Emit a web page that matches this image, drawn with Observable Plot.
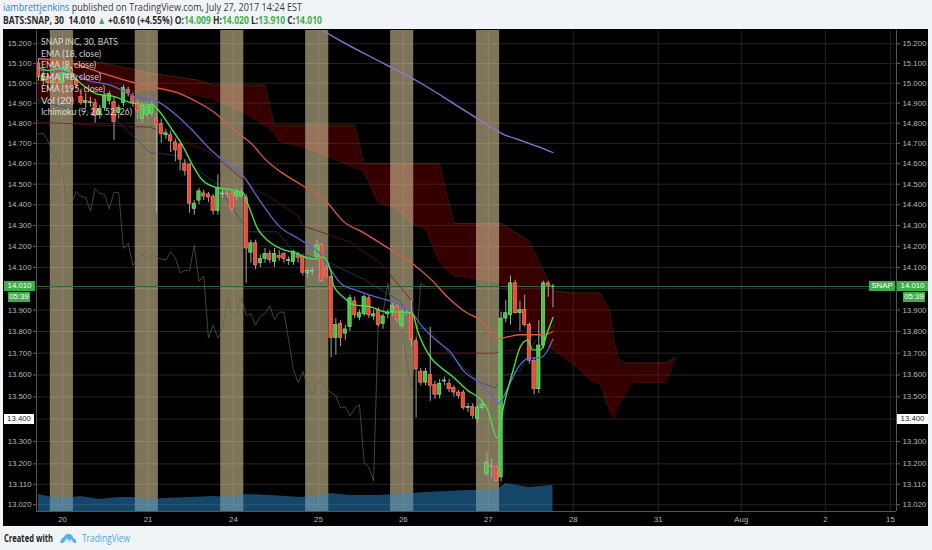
<!DOCTYPE html>
<html><head><meta charset="utf-8">
<script src="https://cdn.jsdelivr.net/npm/d3@7"></script>
<script src="https://cdn.jsdelivr.net/npm/@observablehq/plot@0.6"></script>
<style>
html,body{margin:0;padding:0;background:#f1f4f7;width:932px;height:550px;overflow:hidden;}
#page{position:relative;width:932px;height:550px;font-family:"Open Sans",Lato,sans-serif;}
.fit{position:absolute;white-space:pre;transform-origin:0 50%;line-height:12px;}
#panel{position:absolute;left:3px;top:29px;width:925px;height:497px;background:#000;}
#main,#vol{position:absolute;left:0;top:30px;}
#vol{pointer-events:none;}
.box{position:absolute;font:7.8px "Liberation Sans",Arial,sans-serif;line-height:10px;height:10px;text-align:center;}
.leg{position:absolute;white-space:nowrap;transform-origin:0 50%;font:9.5px Lato,sans-serif;line-height:10px;color:rgba(235,235,235,0.88);}
</style></head>
<body><div id="page">
<div id="h1" class="fit" style="left:3px;top:1px;font-size:10.5px;color:#3a3a3a;"><span style="color:#2f86c8">iambrettjenkins</span> published on TradingView.com, July 27, 2017 14:24 EST</div>
<div id="h2" class="fit" style="left:3px;top:13.5px;font-size:10.5px;font-weight:bold;color:#2a2a2a;"></div>
<div id="panel"></div>
<div id="chart"></div>
<div id="legend"></div>
<div id="boxes"></div>
<div id="f1" class="fit" style="left:4px;top:532px;font-size:10.5px;font-weight:bold;color:#222;">Created with</div>
<svg style="position:absolute;left:60px;top:533px" width="17" height="11" viewBox="0 0 17 11"><path d="M0 10 Q1 5 4 4 Q6 0 10 1 Q13 2 13 5 Q17 6 16 10 Z" fill="#5aaee6"/><path d="M3 10 L7 5 L9 8 L11 6 L14 10 Z" fill="#ffffff" opacity="0.75"/></svg>
<div id="f2" class="fit" style="left:82px;top:532px;font-size:10.5px;color:#4aa6e2;">TradingView</div>
</div>
<script>
// ---------- data ----------
const opens  = [15.10,15.01,15.03,15.00,15.02,15.00,15.04,15.07,15.02,14.93,14.90,14.90,14.90,14.84,14.875,14.91,14.905,14.85,14.90,14.965,14.93,14.90,14.82,14.84,14.845,14.82,14.795,14.74,14.74,14.705,14.695,14.60,14.595,14.38,14.42,14.455,14.45,14.44,14.37,14.45,14.455,14.45,14.44,14.44,14.435,14.17,14.215,14.12,14.14,14.165,14.125,14.155,14.165,14.13,14.125,14.16,14.15,14.075,14.08,14.15,14.205,14.095,14.055,13.77,13.835,13.79,13.82,13.94,13.865,13.88,13.955,13.87,13.90,13.835,13.88,13.89,13.915,13.825,13.89,13.89,13.755,13.615,13.565,13.60,13.555,13.51,13.57,13.56,13.54,13.52,13.52,13.45,13.455,13.40,13.45,13.155,13.19,13.185,13.14,13.86,13.875,14.025,13.885,13.90,13.83,13.665,13.535,13.735,14.025,14.009];
const highs  = [15.12,15.06,15.05,15.03,15.04,15.07,15.09,15.08,15.04,14.97,14.95,14.93,14.92,14.89,14.95,14.96,14.93,14.89,14.99,14.98,14.95,14.915,14.90,14.90,14.91,14.85,14.82,14.77,14.76,14.72,14.70,14.62,14.60,14.42,14.48,14.47,14.46,14.45,14.545,14.48,14.47,14.47,14.48,14.48,14.45,14.23,14.23,14.16,14.19,14.18,14.19,14.18,14.17,14.15,14.18,14.17,14.16,14.10,14.10,14.23,14.215,14.11,14.06,13.86,13.85,13.83,13.97,13.96,13.90,13.97,13.97,13.90,13.91,13.88,13.90,13.93,13.93,13.90,13.91,13.945,13.77,13.63,13.63,13.82,13.57,13.58,13.59,13.58,13.55,13.53,13.53,13.47,13.47,13.46,13.48,13.25,13.22,13.19,13.89,13.945,14.06,14.04,13.94,13.97,13.84,13.68,13.85,14.035,14.035,14.02];
const lows   = [15.01,14.99,14.96,14.98,14.98,14.99,15.02,15.02,14.97,14.89,14.87,14.88,14.80,14.82,14.86,14.89,14.715,14.82,14.88,14.93,14.88,14.82,14.80,14.82,14.83,14.36,14.70,14.72,14.655,14.61,14.565,14.54,14.36,14.35,14.40,14.42,14.41,14.35,14.35,14.43,14.43,14.36,14.42,14.43,14.025,14.12,14.09,14.10,14.12,14.12,14.10,14.13,14.12,14.11,14.11,14.12,14.06,14.05,14.06,14.14,14.03,14.05,13.68,13.69,13.73,13.76,13.80,13.86,13.85,13.87,13.86,13.85,13.82,13.81,13.86,13.87,13.84,13.81,13.87,13.73,13.405,13.55,13.55,13.48,13.49,13.49,13.55,13.52,13.50,13.49,13.44,13.43,13.40,13.38,13.44,13.145,13.135,13.12,13.12,13.84,13.83,13.88,13.80,13.82,13.65,13.51,13.515,13.72,13.96,13.91];
const closes = [15.03,15.04,15.00,15.01,15.00,15.05,15.07,15.04,14.99,14.90,14.91,14.905,14.835,14.87,14.935,14.945,14.805,14.875,14.975,14.95,14.90,14.86,14.885,14.88,14.89,14.79,14.745,14.75,14.71,14.665,14.62,14.565,14.405,14.405,14.465,14.44,14.435,14.37,14.48,14.455,14.45,14.38,14.46,14.46,14.19,14.215,14.11,14.14,14.165,14.135,14.165,14.145,14.14,14.135,14.175,14.145,14.075,14.085,14.085,14.205,14.035,14.06,13.77,13.83,13.77,13.81,13.955,13.875,13.885,13.96,13.875,13.88,13.83,13.87,13.885,13.92,13.855,13.89,13.89,13.76,13.625,13.565,13.615,13.55,13.51,13.56,13.575,13.535,13.52,13.505,13.45,13.455,13.415,13.45,13.465,13.205,13.185,13.125,13.86,13.885,14.025,13.885,13.90,13.83,13.665,13.535,13.735,14.025,14.01,14.01];

const ema8Idx  = [0,1.9,5.3,8.9,12.5,15.7,19.9,24.2,25.4,28.4,30.5,32.6,34.7,37.5,40.3,43.2,44.5,46.4,48.5,51.3,54.9,57,59.1,60.2,61.9,62.5,64.6,66.7,70.3,73.9,77.3,79.2,80.3,83.1,85.2,87.9,90.9,93.6,95.1,97.2,98.5,100.6,102.1,103.6,104.7,106.4,107.8,109];
const ema8Val  = [15.08,15.065,15.075,15.0,14.945,14.935,14.90,14.89,14.865,14.765,14.69,14.595,14.52,14.485,14.475,14.46,14.395,14.285,14.23,14.19,14.165,14.145,14.14,14.15,14.085,14.015,13.96,13.925,13.915,13.89,13.89,13.885,13.805,13.68,13.635,13.59,13.53,13.49,13.445,13.315,13.455,13.625,13.73,13.76,13.715,13.715,13.795,13.865];
const ema18Idx = [0.4,6.1,10.4,15.3,20.6,25.4,29.7,32.6,36,40.3,43.2,46.6,51.3,54.9,57.6,59.7,61.9,64,67.6,72.5,76.1,79.2,81.4,84.5,87.3,90,93.6,96.4,97.5,99.4,101.5,103.6,106.4,107.8,109];
const ema18Val = [15.065,15.055,15.015,14.99,14.93,14.905,14.83,14.765,14.68,14.595,14.545,14.43,14.29,14.24,14.20,14.165,14.09,14.025,13.99,13.955,13.93,13.885,13.82,13.755,13.705,13.62,13.56,13.495,13.47,13.54,13.63,13.675,13.68,13.71,13.765];
const ema48Idx = [0,6.4,13.6,20.6,25.4,29.7,33.3,37.5,41.7,45.3,48.1,51.3,55.5,61.2,64.6,68.9,73.9,79.4,83.1,86.7,90.9,93.6,97.2,99.4,102.1,107,109];
const ema48Val = [15.125,15.105,15.05,15.0,14.975,14.95,14.91,14.85,14.76,14.695,14.62,14.56,14.50,14.41,14.32,14.265,14.195,14.115,14.045,13.96,13.885,13.855,13.765,13.775,13.785,13.785,13.80];
const ema195Idx = [58,64,73.1,80.3,91.5,98.5,102.1,105.7,109];
const ema195Val = [15.30,15.215,15.10,15.01,14.845,14.745,14.715,14.685,14.655];

const cloudIdx   = [-0.4,13,24,34,37,43,48,50,51,57,64,67,69,72,76,79,82,85,86,88,98,104,109,113,117,119,121,122,123,124,126,133,135];
const cloudSpanA = [15.125,15.105,15.05,15.015,14.99,14.99,14.99,14.79,14.79,14.79,14.79,14.79,14.60,14.60,14.60,14.60,14.60,14.60,14.50,14.31,14.31,14.225,13.99,13.98,13.98,13.98,13.90,13.75,13.67,13.655,13.655,13.655,13.68];
const cloudSpanB = [14.92,14.91,14.97,14.935,14.92,14.86,14.79,14.75,14.71,14.675,14.61,14.58,14.56,14.41,14.38,14.31,14.285,14.125,14.10,14.06,14.03,13.84,13.715,13.655,13.575,13.56,13.44,13.405,13.465,13.50,13.565,13.565,13.68];
const convIdx = [-0.4,7.8,15.3,23.7,29.4,34.3,37.9,44.3,50.6,53.8,61.9,68.9,76.7,79.9,82.6,87.7,93.2,96.8,98.3,102.1,105.3,109.3];
const convVal = [14.915,14.865,14.84,14.655,14.64,14.56,14.50,14.27,14.27,14.18,14.12,14.045,13.94,13.815,13.815,13.68,13.57,13.54,13.595,13.62,13.76,13.83];
const baseIdx = [-0.4,23.7,36.4,45.9,48.6,55.1,55.9,66.1,72.5,79.2,79.9,96.8,98.9,109.3];
const baseVal = [14.805,14.78,14.655,14.475,14.445,14.345,14.30,14.22,14.12,13.94,13.70,13.70,13.71,13.735];
const laggingShift = 26;

const volIdx = [0,3,7,9,13,17,20,23,27,32,37,41,44,49,56,62,66,72,79,82,91,94,97,99,104,106,109];
const volMA  = [1.7,1.4,1.4,1.5,1.2,1.4,1.4,1.2,1.3,1.4,1.5,1.4,1.7,1.6,1.4,1.8,1.6,1.6,1.8,1.9,2.1,2.1,2.1,2.8,2.4,2.5,2.6];

const sessionStart = [2.5,20.5,38.6,56.6,74.6,92.8];
const sessionWidth = 4.9;
const dayTicks  = [5.1,23.2,41.3,59.3,77.3,95.3,113.3,131.3,148.9,166.7,180.5];
const dayLabels = ["20","21","24","25","26","27","28","31","Aug","2","15"];
const priceTicks = [15.2,15.1,15.0,14.9,14.8,14.7,14.6,14.5,14.4,14.3,14.2,14.1,14.0,13.9,13.8,13.7,13.6,13.5,13.4,13.3,13.2,13.11,13.02];
const lastPrice = 14.01;
const markedPrice = 13.4;
const labelTicks = priceTicks.filter(t => t !== 14.0 && t !== markedPrice);
const countdown = "05:39";
const symbol = "SNAP";
const legendLabels = ["SNAP INC, 30, BATS","EMA (18, close)","EMA (8, close)","EMA (48, close)","EMA (195, close)","Vol (20)","Ichimoku (9, 26, 52, 26)"];
const quoteParts = [["BATS:SNAP, 30  14.010 ","#2a2a2a"],["\u25B2","#3fae49"],[" +0.610 (+4.55%) O:","#2a2a2a"],["14.009","#3fae49"],[" H:","#2a2a2a"],["14.020","#3fae49"],[" L:","#2a2a2a"],["13.910","#3fae49"],[" C:","#2a2a2a"],["14.010","#3fae49"]];

// ---------- build ----------
const W = 932, H = 496;
const xDomain = [-0.424, 181.78];
const yDomain = [12.9905, 15.268];
const common = {width: W, height: H, marginLeft: 36, marginRight: 36, marginTop: 0, marginBottom: 15};
const bars = opens.map((o, i) => ({i, o, h: highs[i], l: lows[i], c: closes[i]}));
const pts = (idx, val) => idx.map((x, k) => ({x, y: val[k]}));
const cloud = cloudIdx.map((x, k) => ({x, a: cloudSpanA[k], b: cloudSpanB[k]}));
const lagging = closes.map((c, i) => ({x: i - laggingShift, y: c})).filter(d => d.x >= xDomain[0]);
const dayMap = new Map(dayTicks.map((d, k) => [d, dayLabels[k]]));
const up = "#44c844", down = "#ee4a36";

const main = Plot.plot({
  ...common,
  style: {background: "transparent", color: "#b9b9b9", fontFamily: "'Liberation Sans', Arial, sans-serif", fontSize: "7.8px"},
  x: {domain: xDomain, axis: null},
  y: {type: "log", domain: yDomain, axis: null},
  marks: [
    Plot.gridY(priceTicks, {stroke: "#242424", strokeOpacity: 1}),
    Plot.gridX(dayTicks, {stroke: "#242424", strokeOpacity: 1}),
    Plot.areaY(cloud, {x: "x", y1: "a", y2: "b", fill: "#b40000", fillOpacity: 0.3, clip: true}),
    Plot.line(cloud, {x: "x", y: "a", stroke: "#459915", strokeOpacity: 0.3, strokeWidth: 0.8, clip: true}),
    Plot.line(cloud, {x: "x", y: "b", stroke: "#991515", strokeOpacity: 0.5, strokeWidth: 0.8, clip: true}),
    Plot.rect(sessionStart, {x1: d => d, x2: d => d + sessionWidth, fill: "#f2dfaa", fillOpacity: 0.52}),
    Plot.ruleY([lastPrice], {stroke: "#2f6a35", strokeWidth: 1}),
    Plot.line(lagging, {x: "x", y: "y", stroke: "#5d6b3c", strokeOpacity: 0.75, strokeWidth: 0.9}),
    Plot.line(pts(convIdx, convVal), {x: "x", y: "y", stroke: "#1d4f7a", strokeOpacity: 0.75, strokeWidth: 0.9}),
    Plot.line(pts(baseIdx, baseVal), {x: "x", y: "y", stroke: "#6a1414", strokeOpacity: 0.8, strokeWidth: 0.9}),
    Plot.ruleX(bars, {x: "i", y1: "l", y2: "h", stroke: "#a6a6a6", strokeWidth: 1}),
    Plot.rect(bars, {x1: d => d.i - 0.36, x2: d => d.i + 0.36, y1: "o", y2: "c",
      fill: d => d.c >= d.o ? up : down, stroke: d => d.c >= d.o ? "#90e290" : "#f58c7e", strokeWidth: 0.6}),
    Plot.line(pts(ema48Idx, ema48Val), {x: "x", y: "y", stroke: "#e25a3c", strokeWidth: 1.3, curve: "monotone-x"}),
    Plot.line(pts(ema18Idx, ema18Val), {x: "x", y: "y", stroke: "#5d66c9", strokeWidth: 1.3, curve: "monotone-x"}),
    Plot.line(pts(ema8Idx, ema8Val), {x: "x", y: "y", stroke: "#46e046", strokeWidth: 1.4, curve: "monotone-x"}),
    Plot.line(pts(ema195Idx, ema195Val), {x: "x", y: "y", stroke: "#9d6fdc", strokeWidth: 1.3, curve: "monotone-x", clip: true}),
    Plot.ruleX([xDomain[0], xDomain[1]], {stroke: "#555"}),
    Plot.ruleY([yDomain[0]], {stroke: "#555"}),
    Plot.axisY(labelTicks, {anchor: "left", tickSize: 3, tickPadding: 2, tickFormat: d3.format(".3f"), stroke: "#666"}),
    Plot.axisY(labelTicks, {anchor: "right", tickSize: 3, tickPadding: 3, tickFormat: d3.format(".3f"), stroke: "#666"}),
    Plot.axisX(dayTicks, {anchor: "bottom", tickSize: 0, tickPadding: 5, tickFormat: d => dayMap.get(d)})
  ]
});
main.id = "main";

const vol = Plot.plot({
  ...common,
  style: {background: "transparent"},
  x: {domain: xDomain, axis: null},
  y: {domain: [0, 48.1], axis: null},
  marks: [
    Plot.areaY(pts(volIdx, volMA), {x: "x", y: "y", fill: "#2a8ad0", fillOpacity: 0.5, curve: "linear"})
  ]
});
vol.id = "vol";
document.getElementById("chart").append(main, vol);

// ---------- overlays ----------
const ys = main.scale("y");
const yPix = v => 30 + (ys.apply ? ys.apply(v) : d3.scaleLog().domain(yDomain).range([481, 0])(v));
const boxes = document.getElementById("boxes");
function box(text, left, width, top, bg, fg) {
  const d = document.createElement("div");
  d.className = "box";
  d.textContent = text;
  Object.assign(d.style, {left: left + "px", width: width + "px", top: top + "px", background: bg, color: fg});
  boxes.append(d);
}
const yl = yPix(lastPrice) - 5;
box(symbol, 869, 26, yl, "#3fae49", "#fff");
box(lastPrice.toFixed(3), 897, 31, yl, "#3fae49", "#fff");
box(countdown, 903, 22, yl + 11, "#3fae49", "#fff");
box(lastPrice.toFixed(3), 4, 31, yl, "#3fae49", "#fff");
box(countdown, 8, 22, yl + 11, "#3fae49", "#fff");
const ym = yPix(markedPrice) - 5;
box(markedPrice.toFixed(3), 4, 30, ym, "#ffffff", "#222");
box(markedPrice.toFixed(3), 897, 31, ym, "#ffffff", "#222");

const legend = document.getElementById("legend");
const legW = [77, 60, 55, 60, 64, 33, 91];
legendLabels.forEach((t, k) => {
  const d = document.createElement("div");
  d.className = "leg";
  d.textContent = t;
  d.style.left = "41px";
  d.style.top = (37 + k * 11.7) + "px";
  legend.append(d);
  d.style.transform = `scaleX(${legW[k] / d.getBoundingClientRect().width})`;
});

const h2 = document.getElementById("h2");
quoteParts.forEach(([t, c]) => { const s = document.createElement("span"); s.textContent = t; s.style.color = c; h2.append(s); });
function fit(id, w) { const e = document.getElementById(id); e.style.transform = `scaleX(${w / e.getBoundingClientRect().width})`; }
fit("h1", 299); fit("h2", 319); fit("f1", 49); fit("f2", 48);
</script>
</body></html>
